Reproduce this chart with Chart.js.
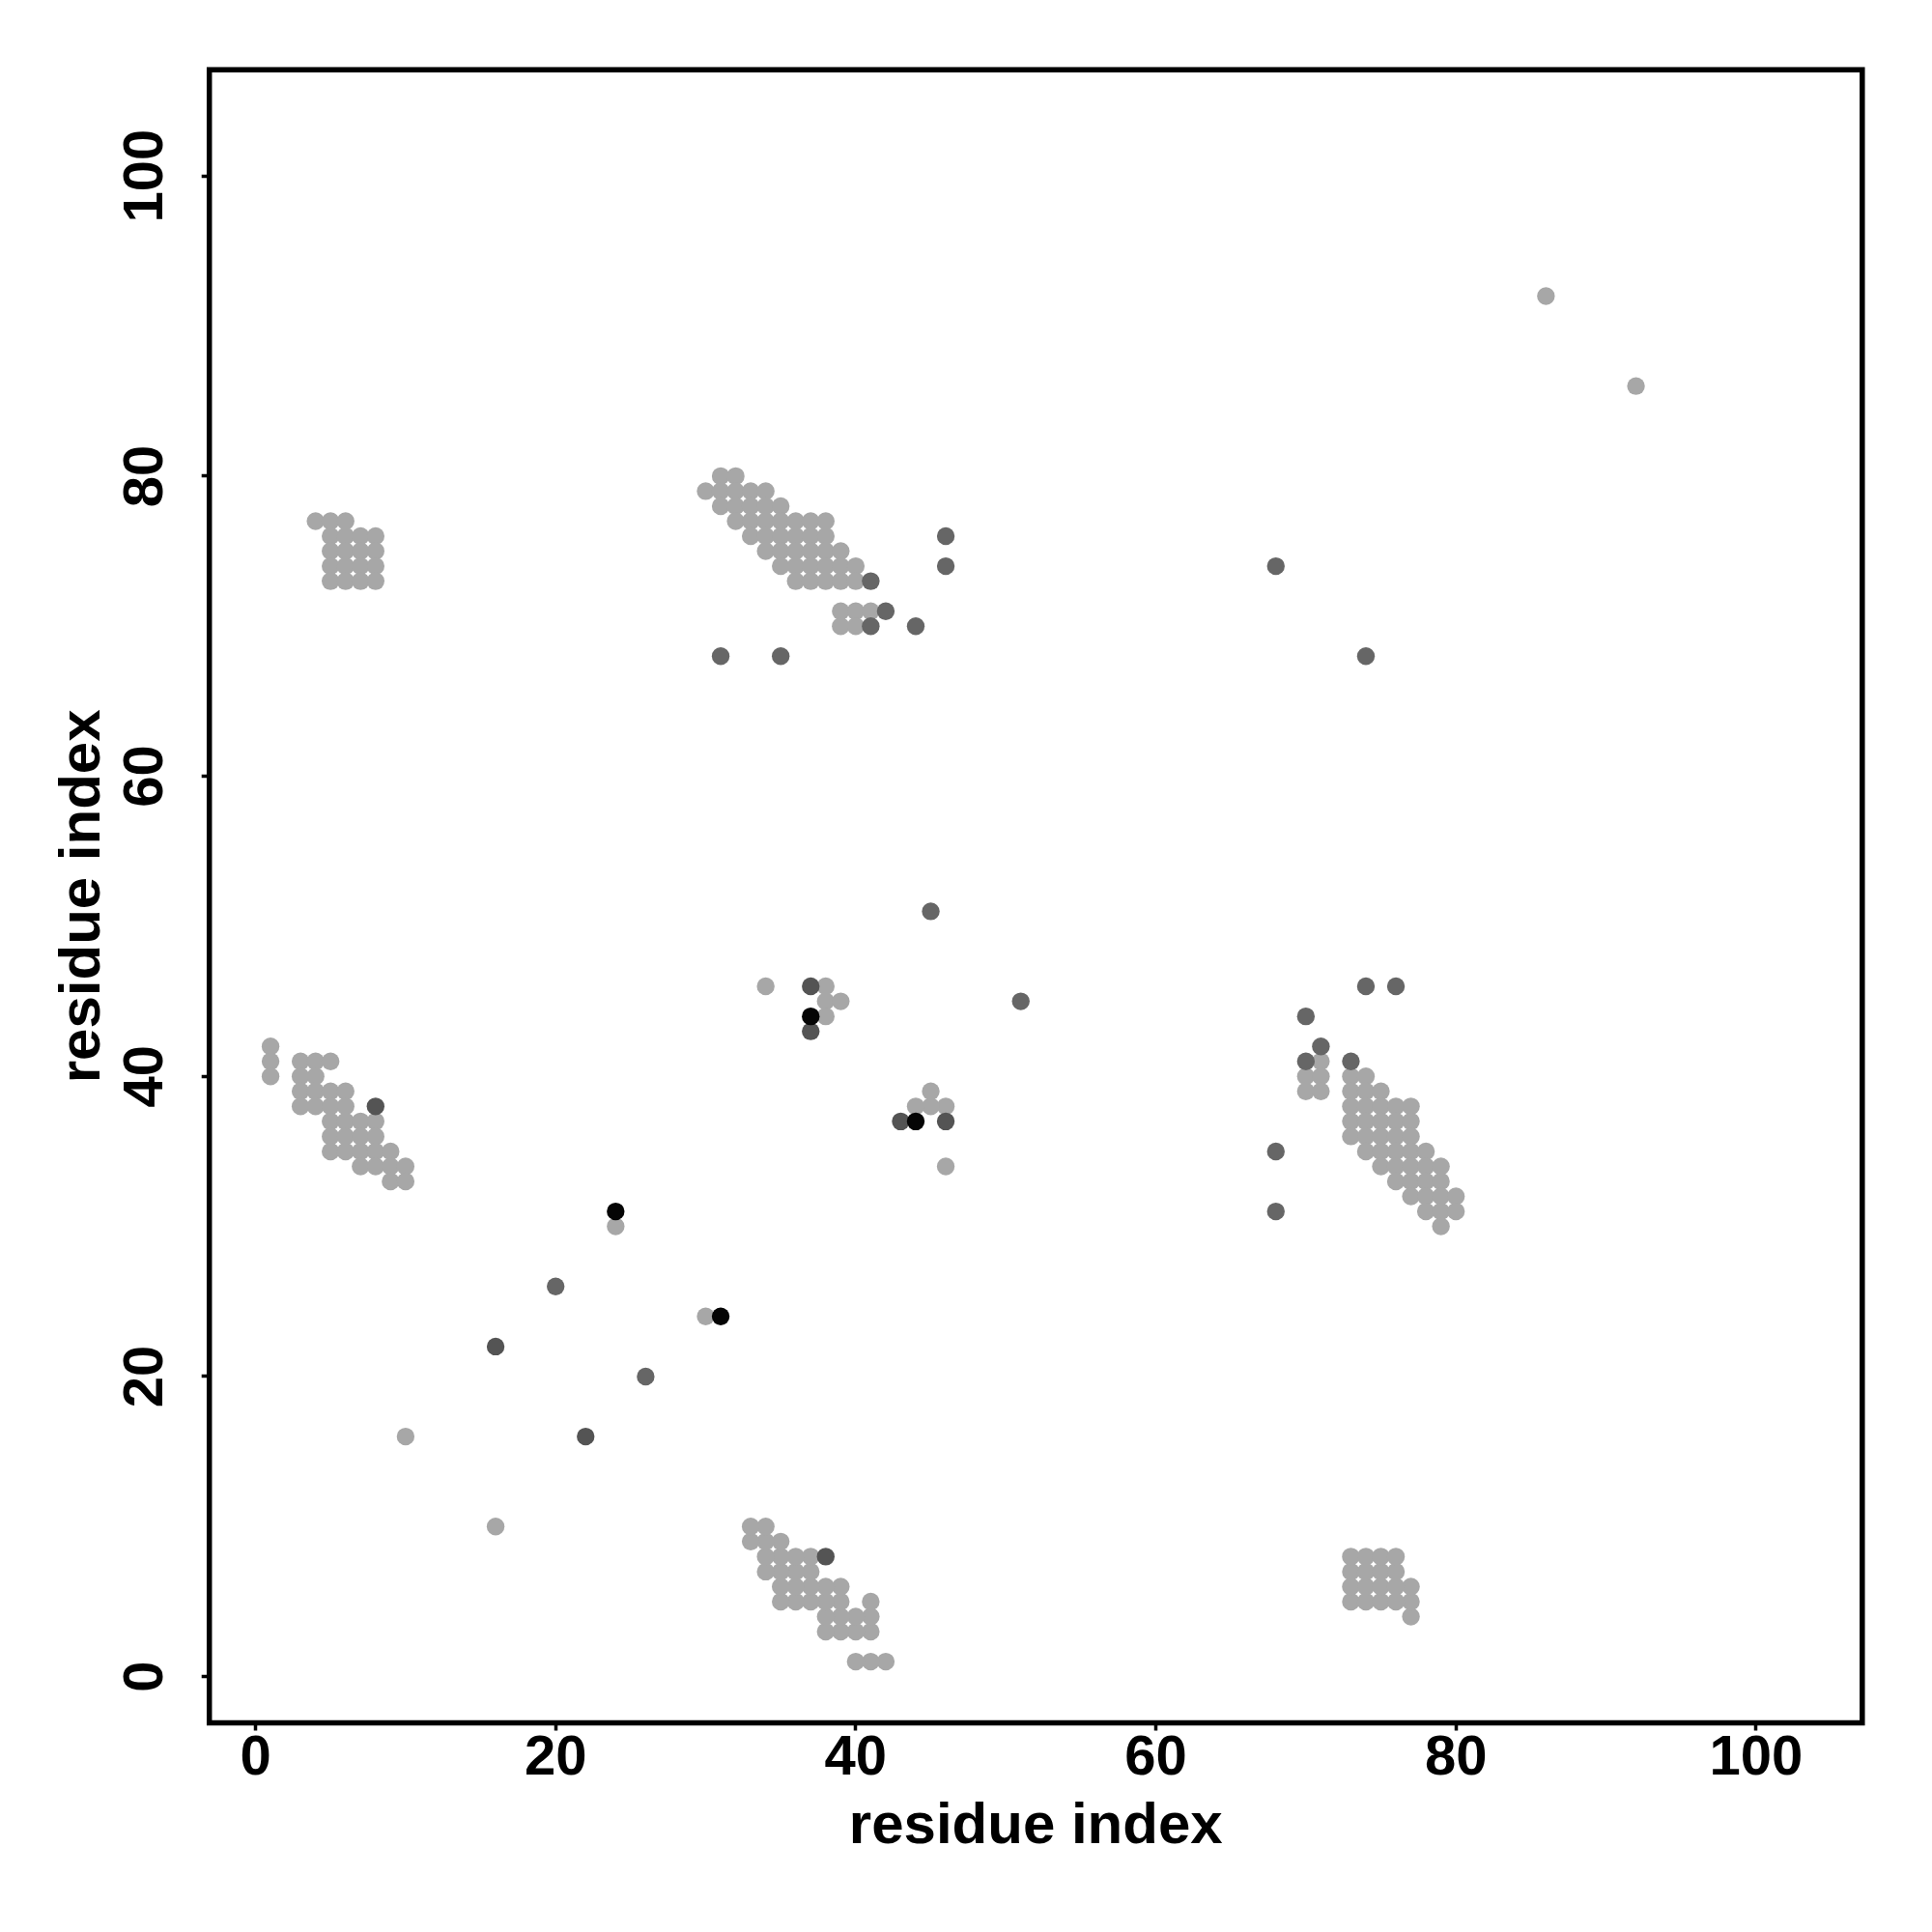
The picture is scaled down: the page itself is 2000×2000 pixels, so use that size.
<!DOCTYPE html>
<html>
<head>
<meta charset="utf-8">
<script src="https://cdn.jsdelivr.net/npm/chart.js@4/dist/chart.umd.min.js"></script>
<style>
  html, body { margin: 0; padding: 0; background: #ffffff; }
  #wrap { width: 2000px; height: 2000px; }
</style>
</head>
<body>
<div id="wrap"><canvas id="c" width="2000" height="2000"></canvas></div>
<script>
// ---------------- data ----------------
const xTicks = [0, 20, 40, 60, 80, 100];
const yTicks = [0, 20, 40, 60, 80, 100];
const axisTitle = 'residue index';

// light grey contacts [residue i, residue j]
const lightContacts = [
  // block near (6,75)
  [4,77],[5,77],[6,77],
  [5,76],[6,76],[7,76],[8,76],
  [5,75],[6,75],[7,75],[8,75],
  [5,74],[6,74],[7,74],[8,74],
  [5,73],[6,73],[7,73],[8,73],
  // block near (75,6)
  [77,4],[77,5],[77,6],
  [73,5],[74,5],[75,5],[76,5],
  [73,6],[74,6],[75,6],[76,6],
  [73,7],[74,7],[75,7],[76,7],
  [73,8],[74,8],[75,8],[76,8],
  // band near (35,76)
  [31,80],[32,80],
  [30,79],[31,79],[32,79],[33,79],[34,79],
  [31,78],[32,78],[33,78],[34,78],[35,78],
  [32,77],[33,77],[34,77],[35,77],[36,77],[37,77],[38,77],
  [33,76],[34,76],[35,76],[36,76],[37,76],[38,76],
  [34,75],[35,75],[36,75],[37,75],[38,75],[39,75],
  [35,74],[36,74],[37,74],[38,74],[39,74],[40,74],
  [36,73],[37,73],[38,73],[39,73],[40,73],
  [39,71],[40,71],[41,71],
  [39,70],[40,70],
  // band near (76,35)
  [73,40],[74,40],
  [73,39],[74,39],[75,39],
  [73,38],[74,38],[75,38],[76,38],[77,38],
  [73,37],[74,37],[75,37],[76,37],[77,37],
  [73,36],[74,36],[75,36],[76,36],[77,36],
  [74,35],[75,35],[76,35],[77,35],[78,35],
  [75,34],[76,34],[77,34],[78,34],[79,34],
  [76,33],[77,33],[78,33],[79,33],
  [77,32],[78,32],[79,32],[80,32],
  [78,31],[79,31],[80,31],
  [79,30],
  [71,41],[70,40],[71,40],[70,39],[71,39],
  // band near (6,37)
  [1,42],[1,41],[1,40],
  [3,41],[4,41],[5,41],
  [3,40],[4,40],
  [3,39],[4,39],[5,39],[6,39],
  [3,38],[4,38],[5,38],[6,38],
  [5,37],[6,37],[7,37],[8,37],
  [5,36],[6,36],[7,36],[8,36],
  [5,35],[6,35],[7,35],[8,35],[9,35],
  [7,34],[8,34],[9,34],[10,34],
  [9,33],[10,33],
  // band near (37,6)
  [42,1],[41,1],[40,1],
  [41,3],[41,4],[41,5],
  [40,3],[40,4],
  [39,3],[39,4],[39,5],[39,6],
  [38,3],[38,4],[38,5],[38,6],
  [37,5],[37,6],[37,7],[37,8],
  [36,5],[36,6],[36,7],[36,8],
  [35,5],[35,6],[35,7],[35,8],[35,9],
  [34,7],[34,8],[34,9],[34,10],
  [33,9],[33,10],
  // middle and scattered
  [34,46],[38,46],[38,45],[39,45],[38,44],
  [46,34],[46,38],[45,38],[45,39],[44,38],
  [24,30],[30,24],[10,16],[16,10],
  [86,92],[92,86]
];

// mid-dark grey contacts
const midContacts = [
  [41,73],[73,41],[42,71],[71,42],[41,70],[70,41],[44,70],[70,44],
  [46,76],[76,46],[46,74],[74,46],[31,68],[68,31],[35,68],[68,35],
  [68,74],[74,68],[45,51],[51,45],[20,26],[26,20]
];

// dark grey contacts
const darkContacts = [
  [8,38],[38,8],[16,22],[22,16],[37,43],[43,37],[37,46],[46,37]
];

// black contacts
const blackContacts = [
  [24,31],[31,24],[37,44],[44,37]
];

// ---------------- chart ----------------
const FONT = '"Liberation Sans", Arial, Helvetica, sans-serif';
const toPts = arr => arr.map(p => ({ x: p[0], y: p[1] }));

const framePlugin = {
  id: 'frameAndYLabels',
  afterDraw(chart) {
    const { ctx, chartArea: a } = chart;
    ctx.save();
    ctx.strokeStyle = '#000';
    ctx.lineWidth = 5.5;
    ctx.strokeRect(a.left, a.top, a.right - a.left, a.bottom - a.top);
    const ys = chart.scales.y;
    ctx.fillStyle = '#000';
    ctx.font = 'bold 58px ' + FONT;
    ctx.textAlign = 'center';
    ctx.textBaseline = 'alphabetic';
    ys.ticks.forEach(t => {
      const py = ys.getPixelForValue(t.value);
      ctx.save();
      ctx.translate(168, py);
      ctx.rotate(-Math.PI / 2);
      ctx.fillText(String(t.label), 0, 0);
      ctx.restore();
    });
    ctx.restore();
  }
};

const pointStyle = (color) => ({
  pointRadius: 9.2,
  pointHoverRadius: 9.2,
  pointBorderWidth: 0,
  borderWidth: 0,
  backgroundColor: color,
  borderColor: color,
  showLine: false
});

new Chart(document.getElementById('c').getContext('2d'), {
  type: 'scatter',
  data: {
    datasets: [
      Object.assign({ label: 'black', data: toPts(blackContacts) }, pointStyle('#050505')),
      Object.assign({ label: 'dark', data: toPts(darkContacts) }, pointStyle('#545454')),
      Object.assign({ label: 'mid', data: toPts(midContacts) }, pointStyle('#666666')),
      Object.assign({ label: 'light', data: toPts(lightContacts) }, pointStyle('#a7a7a7'))
    ]
  },
  options: {
    responsive: false,
    animation: false,
    devicePixelRatio: 1,
    layout: { padding: { left: 0, top: 72.2, right: 72.2, bottom: 0 } },
    plugins: { legend: { display: false }, tooltip: { enabled: false } },
    scales: {
      x: {
        type: 'linear',
        position: 'bottom',
        min: -3.08,
        max: 107.08,
        afterBuildTicks: s => { s.ticks = xTicks.map(v => ({ value: v })); },
        afterFit: s => { s.height = 216.5; },
        grid: { drawOnChartArea: false, drawTicks: true, tickLength: 8, tickWidth: 3.5, tickColor: '#000' },
        border: { display: false },
        ticks: {
          color: '#000',
          font: { family: FONT, size: 58, weight: 'bold', lineHeight: 1 },
          padding: 0,
          maxRotation: 0,
          autoSkip: false
        },
        title: {
          display: true,
          text: axisTitle,
          color: '#000',
          font: { family: FONT, size: 60, weight: 'bold', lineHeight: 1.2 },
          padding: { top: 0, bottom: 73 }
        }
      },
      y: {
        type: 'linear',
        position: 'left',
        min: -3.08,
        max: 107.08,
        afterBuildTicks: s => { s.ticks = yTicks.map(v => ({ value: v })); },
        afterFit: s => { s.width = 216.7; },
        grid: { drawOnChartArea: false, drawTicks: true, tickLength: 8, tickWidth: 3.5, tickColor: '#000' },
        border: { display: false },
        ticks: { display: false, autoSkip: false },
        title: {
          display: true,
          text: axisTitle,
          color: '#000',
          font: { family: FONT, size: 60, weight: 'bold', lineHeight: 1.2 },
          padding: { top: 50, bottom: 0 }
        }
      }
    }
  },
  plugins: [framePlugin]
});
</script>
</body>
</html>
